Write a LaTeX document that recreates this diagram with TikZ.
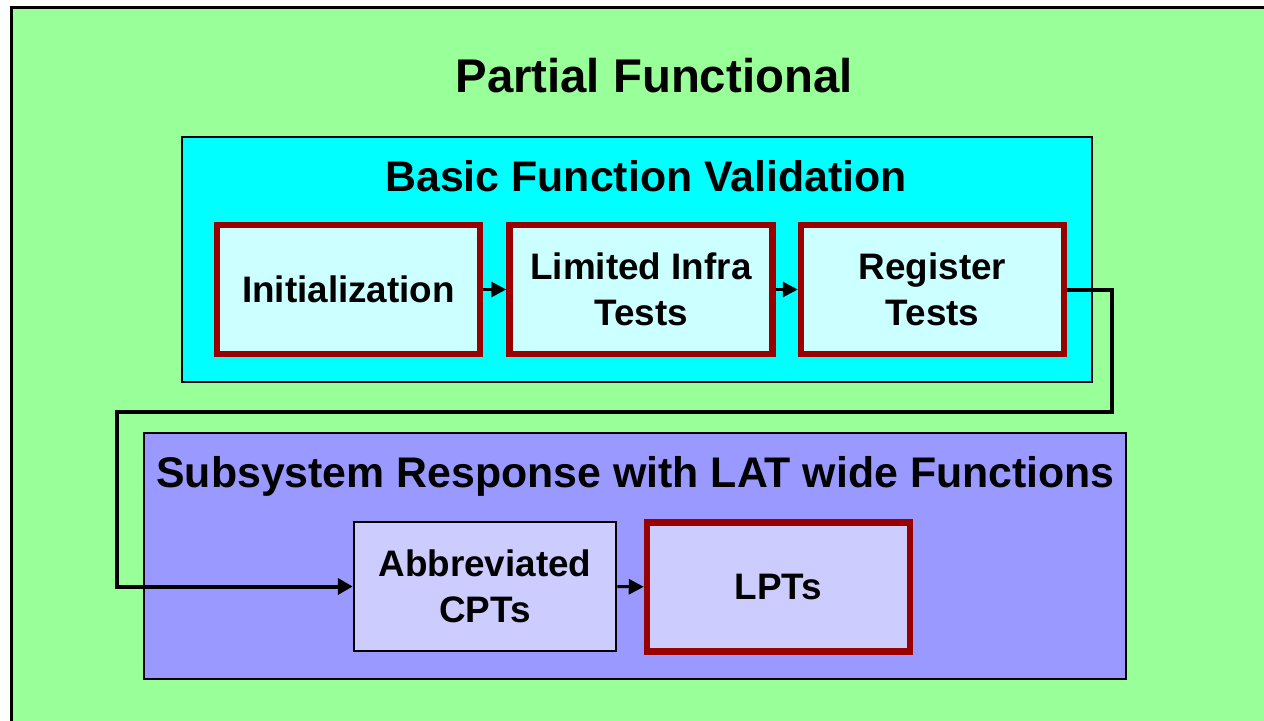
\documentclass[tikz,border=0pt]{standalone}
\usepackage{fontspec}
\setmainfont{Liberation Sans}
\usetikzlibrary{arrows.meta}

\definecolor{pagegreen}{HTML}{99FF99}
\definecolor{phasecyan}{HTML}{00FFFF}
\definecolor{stepcyan}{HTML}{CCFFFF}
\definecolor{phaseblue}{HTML}{9999FF}
\definecolor{steplav}{HTML}{CCCCFF}
\definecolor{keyred}{HTML}{990000}

\tikzset{
  heading/.style={font=\bfseries\fontsize{43}{50}\selectfont, inner sep=0pt},
  panel/.style={draw=black, line width=2.5bp, minimum width=#1, inner sep=0pt},
  stepbox/.style={font=\bfseries\fontsize{37}{46}\selectfont, align=center,
    minimum width=263bp, minimum height=129bp, inner sep=0pt},
  keystep/.style={stepbox, draw=keyred, line width=6.5bp},
  plainstep/.style={stepbox, draw=black, line width=2.5bp},
  flow/.style={line width=3bp, -{Triangle[length=15bp,width=15bp]}},
  longflow/.style={line width=4bp, -{Triangle[length=15bp,width=16bp]}}
}

\begin{document}
\begin{tikzpicture}[x=1bp,y=-1bp]
  \useasboundingbox (0,0) rectangle (1264,721);
  \fill[white] (0,0) rectangle (1264,721);
  \clip (0,0) rectangle (1264,721);

  % page background
  \draw[fill=pagegreen, line width=3bp] (11,8) rectangle (1300,760);
  \node[heading, font=\bfseries\fontsize{47.5}{54}\selectfont, anchor=base] (title) at (654,93) {Partial Functional};

  % basic function validation phase
  \node[panel=910bp, minimum height=245bp, fill=phasecyan] (basic) at (637,259.5) {};
  \node[heading, anchor=base] (basictitle) at (646,192) {Basic Function Validation};
  \node[keystep, fill=stepcyan] (init) at (348.5,289.5) {Initialization};
  \node[keystep, fill=stepcyan, text depth=0pt, yshift=0bp] (infra) at (641,289.5) {Limited Infra\\Tests};
  \node[keystep, fill=stepcyan] (reg) at (932.5,289.5) {Register\\Tests};

  % subsystem response phase
  \node[panel=982bp, minimum height=246bp, fill=phaseblue] (subsys) at (635,556) {};
  \node[heading, anchor=base] (subsystitle) at (635.5,487) {Subsystem Response with LAT wide Functions};
  \node[plainstep, fill=steplav, minimum width=262bp] (abb) at (485,586.5) {Abbreviated\\CPTs};
  \node[keystep, fill=steplav] (lpt) at (778.5,587) {LPTs};

  % connectors
  \draw[flow] (init) -- (infra);
  \draw[flow] (infra) -- (reg);
  \draw[flow] (abb) -- (lpt);
  \coordinate (turnr) at (1112,412);
  \coordinate (turnl) at (117,412);
  \draw[longflow] (reg.east) -| (turnr) -- (turnl) |- (abb.west);
\end{tikzpicture}
\end{document}
